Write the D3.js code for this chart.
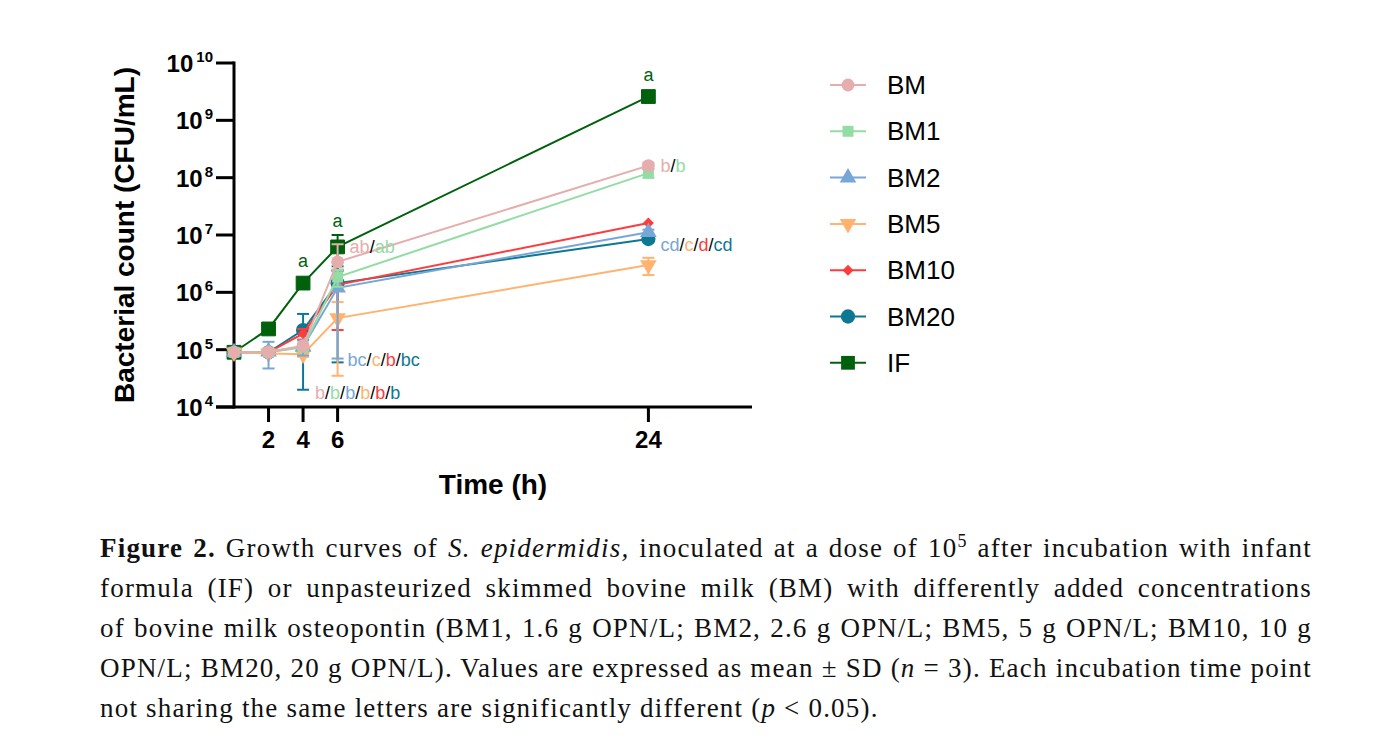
<!DOCTYPE html>
<html>
<head>
<meta charset="utf-8">
<script src="https://cdn.jsdelivr.net/npm/d3@7"></script>
<style>
  body { margin: 0; background: #fff; }
  #chart { position: absolute; left: 0; top: 0; }
  #caption {
    position: absolute; left: 100px; top: 528px; width: 1212px;
    font-family: "Liberation Serif", serif; font-size: 27px; line-height: 40px; color: #111;
    letter-spacing: 1.2px;
  }
  #caption div { text-align: justify; text-align-last: justify; white-space: nowrap; }
  #caption div.last { text-align-last: left; }
</style>
</head>
<body>
<div id="chart"></div>
<div id="caption">
  <div><b>Figure 2.</b> Growth curves of <i>S. epidermidis,</i> inoculated at a dose of 10<sup style="font-size:18px;line-height:0">5</sup> after incubation with infant</div>
  <div>formula (IF) or unpasteurized skimmed bovine milk (BM) with differently added concentrations</div>
  <div>of bovine milk osteopontin (BM1, 1.6 g OPN/L; BM2, 2.6 g OPN/L; BM5, 5 g OPN/L; BM10, 10 g</div>
  <div>OPN/L; BM20, 20 g OPN/L). Values are expressed as mean ± SD (<i>n</i> = 3). Each incubation time point</div>
  <div class="last">not sharing the same letters are significantly different (<i>p</i> &lt; 0.05).</div>
</div>
<script>
const width = 1388
const height = 741

// incubation times (h)
const times = [0, 2, 4, 6, 24]

// means (CFU/mL)
const BM = [9.0e4, 9.1e4, 1.17e5, 3.4e6, 1.62e8]
const BM1 = [9.0e4, 9.0e4, 1.1e5, 1.85e6, 1.2e8]
const BM2 = [9.0e4, 9.2e4, 1.12e5, 1.2e6, 1.12e7]
const BM5 = [9.0e4, 8.6e4, 8.3e4, 3.55e5, 3.0e6]
const BM10 = [9.0e4, 9.0e4, 1.9e5, 1.35e6, 1.62e7]
const BM20 = [9.0e4, 9.0e4, 2.2e5, 1.45e6, 8.5e6]
const IF = [9.0e4, 2.3e5, 1.45e6, 6.2e6, 2.6e9]

// standard deviations
const BM_sd = [0, 1e4, 1e4, 3.5e6, 2e7]
const BM1_sd = [0, 5e3, 1e4, 6e5, 2e7]
const BM2_sd = [0, 4.5e4, 3.3e4, 1.13e6, 1.2e6]
const BM5_sd = [0, 5e3, 8e3, 3.2e5, 1.0e6]
const BM10_sd = [0, 5e3, 4e4, 1.13e6, 0]
const BM20_sd = [0, 5e3, 2.0e5, 1.39e6, 5e5]
const IF_sd = [0, 1e4, 1e5, 3.8e6, 3e8]

const seriesNames = ['BM', 'BM1', 'BM2', 'BM5', 'BM10', 'BM20', 'IF']
const seriesColors = ['#e6adad', '#93dca4', '#78a6d6', '#ffb36e', '#ff3b3b', '#0d7893', '#00610c']
const seriesSymbols = [d3.symbolCircle, d3.symbolSquare, d3.symbolTriangle, d3.symbolTriangle, d3.symbolSquare, d3.symbolCircle, d3.symbolSquare]
const seriesRotate = [0, 0, 0, 180, 45, 0, 0]
const seriesSizes = [130, 120, 120, 120, 60, 160, 190]

const xTicks = [2, 4, 6, 24]
const yTicks = [4, 5, 6, 7, 8, 9, 10]

// significance letters: [time, value anchor, dx, dy, [text, colour index]...]
const letters = [
  [4, 1.45e6, 0, -22, [['a', 6]]],
  [6, 6.2e6, 0, -26, [['a', 6]]],
  [24, 2.6e9, 0, -22, [['a', 6]]],
  [6, 6.2e6, 12, 0, [['ab', 0], ['/', -1], ['ab', 1]]],
  [24, 1.62e8, 12, 0, [['b', 0], ['/', -1], ['b', 1]]],
  [24, 8.5e6, 12, 6, [['cd', 2], ['/', -1], ['c', 3], ['/', -1], ['d', 4], ['/', -1], ['cd', 5]]],
  [6, 6.5e4, 10, 0, [['bc', 2], ['/', -1], ['c', 3], ['/', -1], ['b', 4], ['/', -1], ['bc', 5]]],
  [4, 1.75e4, 12, 0, [['b', 0], ['/', -1], ['b', 1], ['/', -1], ['b', 2], ['/', -1], ['b', 3], ['/', -1], ['b', 4], ['/', -1], ['b', 5]]]
]

const means = [BM, BM1, BM2, BM5, BM10, BM20, IF]
const sds = [BM_sd, BM1_sd, BM2_sd, BM5_sd, BM10_sd, BM20_sd, IF_sd]
const series = seriesNames.map((name, i) => ({
  name, i, color: seriesColors[i], symbol: seriesSymbols[i], size: seriesSizes[i], rot: seriesRotate[i],
  points: times.map((t, j) => ({t, v: means[i][j], sd: sds[i][j]}))
}))

const svg = d3.select('#chart').append('svg')
  .attr('width', width).attr('height', height)

const x = d3.scaleLinear().domain([0, 30]).range([234, 752])
const y = d3.scaleLog().domain([1e4, 1e10]).range([407, 63])

const sans = 'Liberation Sans, Arial, sans-serif'

// axes
const axes = svg.append('g').attr('stroke', '#000').attr('stroke-width', 3)
axes.append('line').attr('x1', 234).attr('x2', 234).attr('y1', y(1e10) - 1.5).attr('y2', y(1e4) + 1.5)
axes.append('line').attr('x1', 216).attr('x2', x(30)).attr('y1', y(1e4)).attr('y2', y(1e4))
axes.selectAll('.yt').data(yTicks).enter().append('line')
  .attr('x1', 216).attr('x2', 234).attr('y1', d => y(Math.pow(10, d))).attr('y2', d => y(Math.pow(10, d)))
axes.selectAll('.xt').data(xTicks).enter().append('line')
  .attr('x1', d => x(d)).attr('x2', d => x(d)).attr('y1', y(1e4)).attr('y2', y(1e4) + 15)

const yl = svg.append('g').selectAll('text').data(yTicks).enter().append('text')
  .attr('x', 213).attr('y', d => y(Math.pow(10, d)) + 9)
  .attr('text-anchor', 'end').attr('font-family', sans).attr('font-weight', 'bold').attr('font-size', 24)
yl.append('tspan').text('10')
yl.append('tspan').attr('font-size', 15).attr('dy', -10).attr('dx', d => d >= 10 ? 3 : 2).text(d => d)

svg.append('g').selectAll('text').data(xTicks).enter().append('text')
  .attr('x', d => x(d)).attr('y', 448)
  .attr('text-anchor', 'middle').attr('font-family', sans).attr('font-weight', 'bold').attr('font-size', 24)
  .text(d => d)

svg.append('text').attr('x', 493).attr('y', 494).attr('text-anchor', 'middle')
  .attr('font-family', sans).attr('font-weight', 'bold').attr('font-size', 28).text('Time (h)')

svg.append('text').attr('transform', 'translate(134,235) rotate(-90)').attr('text-anchor', 'middle')
  .attr('font-family', sans).attr('font-weight', 'bold').attr('font-size', 28).text('Bacterial count (CFU/mL)')

// series drawn from IF (bottom) to BM (top)
const line = d3.line().x(d => x(d.t)).y(d => y(d.v))
const order = series.slice().reverse()

const g = svg.append('g')
order.forEach(s => {
  const sg = g.append('g')
  sg.append('path').datum(s.points).attr('d', line)
    .attr('fill', 'none').attr('stroke', s.color).attr('stroke-width', 2)

  // error bars
  const eb = sg.selectAll('.eb').data(s.points.filter(p => p.sd > 0)).enter().append('g')
    .attr('stroke', s.color).attr('stroke-width', 2)
  eb.each(function (p) {
    const e = d3.select(this)
    const top = y(p.v + p.sd)
    const lowOk = p.v - p.sd > 1e4
    const bot = lowOk ? y(p.v - p.sd) : y(p.v)
    e.append('line').attr('x1', x(p.t)).attr('x2', x(p.t)).attr('y1', top).attr('y2', bot)
    e.append('line').attr('x1', x(p.t) - 6).attr('x2', x(p.t) + 6).attr('y1', top).attr('y2', top)
    if (lowOk) e.append('line').attr('x1', x(p.t) - 6).attr('x2', x(p.t) + 6).attr('y1', bot).attr('y2', bot)
  })

  sg.selectAll('.pt').data(s.points).enter().append('path')
    .attr('d', d3.symbol().type(s.symbol).size(s.size))
    .attr('transform', p => 'translate(' + x(p.t) + ',' + y(p.v) + ') rotate(' + s.rot + ')')
    .attr('fill', s.color)
    .attr('stroke', s.name === 'IF' ? '#00610c' : 'none')
})

// significance letters
letters.forEach(([t, v, dx, dy, parts]) => {
  const txt = svg.append('text')
    .attr('x', x(t) + dx).attr('y', y(v) + dy + 6)
    .attr('text-anchor', dx === 0 ? 'middle' : 'start')
    .attr('font-family', sans).attr('font-size', 18)
  parts.forEach(([s, ci]) => {
    txt.append('tspan').attr('fill', ci < 0 ? '#000' : seriesColors[ci]).text(s)
  })
})

// legend
const legend = svg.append('g').selectAll('g').data(series).enter().append('g')
  .attr('transform', (d, i) => 'translate(830,' + (85 + i * 46.3) + ')')
legend.append('line').attr('x1', 0).attr('x2', 36).attr('stroke', d => d.color).attr('stroke-width', 2)
legend.append('path').attr('d', d => d3.symbol().type(d.symbol).size(d.size)())
  .attr('transform', d => 'translate(18,0) rotate(' + d.rot + ')').attr('fill', d => d.color)
legend.append('text').attr('x', 57).attr('y', 9).attr('font-family', sans).attr('font-size', 26)
  .attr('fill', '#000').text(d => d.name)
</script>
</body>
</html>
